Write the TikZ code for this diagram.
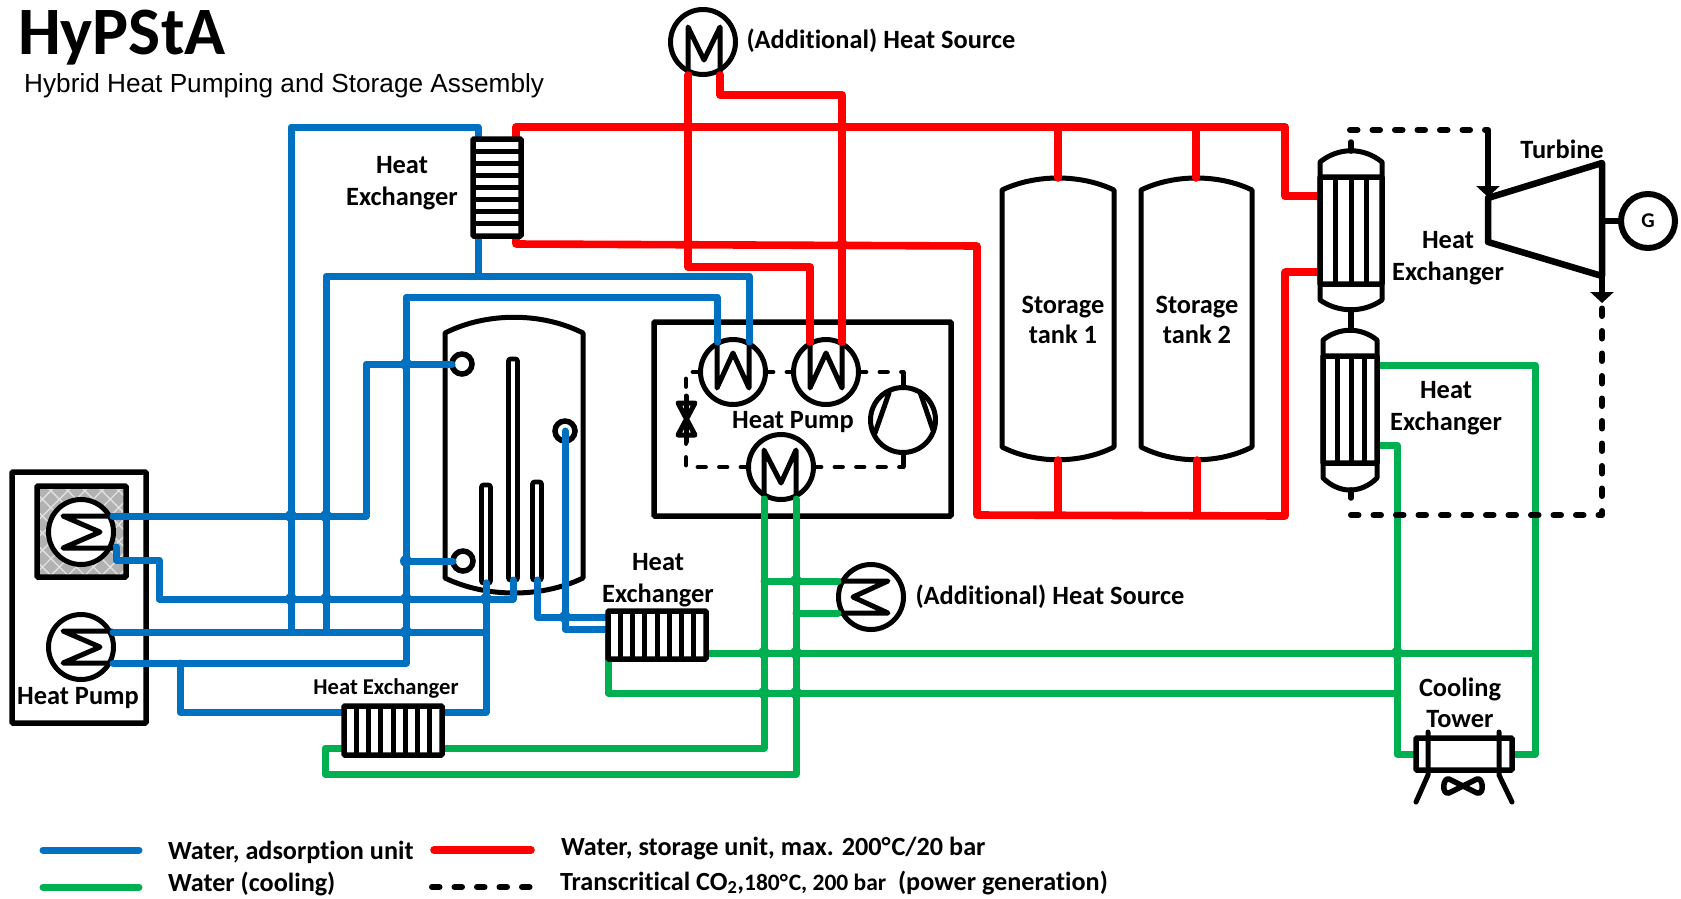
\documentclass[tikz,border=0pt]{standalone}
\usepackage{fontspec}
\setmainfont[Ligatures=NoCommon]{Carlito}
\newfontfamily\subtitlefont{Liberation Sans}
\usetikzlibrary{positioning,shapes,arrows.meta,patterns.meta}
\definecolor{waterBlue}{HTML}{0070C0}
\definecolor{waterRed}{HTML}{FF0000}
\definecolor{waterGreen}{HTML}{00B050}
\pgfdeclarelayer{front}
\pgfsetlayers{main,front}
\tikzset{
    pipe/.style={line width=7pt, line cap=round, line join=round},
    bluePipe/.style={pipe, draw=waterBlue},
    redPipe/.style={pipe, line width=7.6pt, draw=waterRed},
    greenPipe/.style={pipe, draw=waterGreen},
    co2Pipe/.style={line width=6pt, line cap=round, line join=round, dash pattern=on 7.5pt off 15pt},
    loopPipe/.style={line width=4.8pt, line cap=round, line join=round, dash pattern=on 7.5pt off 14pt},
    glyph/.style={line width=5pt, line cap=round, line join=round},
    shell/.style={line width=5pt, line join=round, fill=white},
    coil/.style={shape=circle, draw=black, line width=5pt, fill=white, minimum size=65pt, inner sep=0pt, outer sep=0pt},
    frame/.style={shape=rectangle, draw=black, line width=5.5pt, inner sep=0pt, outer sep=0pt, rounded corners=1pt},
    bank/.style={frame, fill=white},
    tube/.style={shape=rectangle, draw=black, line width=4.6pt, fill=white, minimum width=9pt, inner sep=0pt, outer sep=0pt, rounded corners=2pt},
    port/.style={shape=circle, draw=black, line width=5.5pt, minimum size=20pt, inner sep=0pt, outer sep=0pt},
    joint/.style={shape=circle, minimum size=12pt, inner sep=0pt, outer sep=0pt},
    tag/.style={inner sep=0pt, outer sep=0pt, align=center, font=\bfseries\fontsize{26.4}{32}\selectfont},
    tightTag/.style={tag, font=\bfseries\fontsize{26.4}{30.5}\selectfont},
    legendTag/.style={inner sep=0pt, outer sep=0pt, anchor=base west, font=\bfseries\fontsize{26.2}{30}\selectfont},
}
\newcommand*{\vessel}[6]{\draw[shell] (#1,#3) .. controls ({#1+0.3*(#2-#1)},#4) and ({#2-0.3*(#2-#1)},#4) .. (#2,#3) -- (#2,#5) .. controls ({#2-0.3*(#2-#1)},#6) and ({#1+0.3*(#2-#1)},#6) .. (#1,#5) -- cycle;}
\newcommand*{\zigRight}[1]{\draw[glyph, shift={(#1.center)}] (31,-16) -- (-18,-16) -- (19,0) -- (-18,16) -- (31,16);}
\newcommand*{\zigLeft}[1]{\draw[glyph, shift={(#1.center)}] (-33,-16) -- (17,-16) -- (-18,0) -- (17,16) -- (-33,16);}

\begin{document}
\begin{tikzpicture}[x=1pt, y=-1pt, >={Triangle[length=11pt,width=23pt]}]
    \useasboundingbox (0,0) rectangle (1681,898);

    \node[tag, anchor=base west, font=\bfseries\fontsize{67.8}{72}\selectfont] (mainTitle) at (18,54) {HyPStA};
    \node[inner sep=0pt, anchor=base west, font=\subtitlefont\fontsize{26.2}{30}\selectfont] (subTitle) at (24,92) {Hybrid Heat Pumping and Storage Assembly};

    % frames and vessels
    \node[frame, minimum width=134pt, minimum height=251pt] (adsBox) at (79,597.5) {};
    \node[frame, minimum width=89pt, minimum height=91pt, pattern={Hatch[angle=45,distance=12pt,line width=1.4pt]}, pattern color=white!88!black, preaction={fill=black!30}] (adsCore) at (81.5,531.5) {};
    \node[frame, minimum width=297pt, minimum height=194pt] (pumpBox) at (802.5,419) {};
    \vessel{445}{583}{333}{312}{578}{598}
    \vessel{1002}{1114}{190}{174}{447}{464}
    \vessel{1141}{1252}{190}{174}{447}{464}
    \node[tube, minimum height=98pt] (tubeA) at (486,534) {};
    \node[tube, minimum height=221pt] (tubeB) at (513,469.5) {};
    \node[tube, minimum height=98pt] (tubeC) at (537,531) {};
    \node[port] (tankTop) at (462,364) {};
    \node[port] (tankLow) at (463,561) {};
    \node[port] (tankMid) at (565,431) {};

    % coils
    \node[coil] (adsCoil) at (81,532) {};
    \zigRight{adsCoil}
    \node[coil] (chillCoil) at (81,647) {};
    \zigRight{chillCoil}
    \node[coil] (srcTop) at (703,42) {};
    \draw[glyph, shift={(srcTop.center)}] (-15,33) -- (-15,-15) -- (1,18) -- (17,-15) -- (17,33);
    \node[coil] (srcLow) at (871,597) {};
    \zigLeft{srcLow}
    \node[coil] (condA) at (733,372) {};
    \draw[glyph, shift={(condA.center)}] (-16,-29) -- (-16,16) -- (0,-19) -- (16,16) -- (16,-29);
    \node[coil] (condB) at (826,372) {};
    \draw[glyph, shift={(condB.center)}] (-16,-29) -- (-16,16) -- (0,-19) -- (16,16) -- (16,-29);
    \node[coil] (evap) at (781,467) {};
    \draw[glyph, shift={(evap.center)}] (-17,32) -- (-17,-17) -- (0,16) -- (15,-17) -- (15,32);
    \node[coil] (comp) at (903,420) {};
    \draw[glyph] (889,393) -- (875,433);
    \draw[glyph] (920,392) -- (933,430);

    % heat exchangers sit above the pipes
    \begin{pgfonlayer}{front}
        \node[bank, minimum width=48pt, minimum height=97pt] (hxTop) at (497,187.5) {};
        \foreach \k in {1,...,7} \draw[glyph, line cap=butt] (473,{139+12.12*\k}) -- (521,{139+12.12*\k});
        \node[bank, minimum width=98pt, minimum height=48pt] (hxTank) at (657,635) {};
        \foreach \k in {1,...,7} \draw[glyph, line cap=butt] ({608+12.25*\k},611) -- ({608+12.25*\k},659);
        \node[bank, minimum width=98pt, minimum height=49pt] (hxLow) at (393,730.5) {};
        \foreach \k in {1,...,7} \draw[glyph, line cap=butt] ({344+12.25*\k},706) -- ({344+12.25*\k},755);

        \vessel{1320}{1382}{162}{147}{300}{313}
        \node[bank, minimum width=62pt, minimum height=107pt] (shellA) at (1351,230.5) {};
        \foreach \k in {1335,1351,1366} \draw[glyph, line cap=butt] (\k,177) -- (\k,284);
        \vessel{1323}{1377}{340}{327}{478}{494}
        \node[bank, minimum width=54pt, minimum height=107pt] (shellB) at (1350,409.5) {};
        \foreach \k in {1337,1351,1364} \draw[glyph, line cap=butt] (\k,356) -- (\k,463);
        \draw[glyph, line width=5.5pt] (1351,142) -- (1351,151);
        \draw[glyph, line width=6pt] (1351,310) -- (1351,330);
        \draw[glyph, line width=5.5pt] (1351,490) -- (1351,498);

        \node[bank, minimum width=96pt, minimum height=32pt] (tower) at (1464,754) {};
        \draw[glyph] (1428,732) -- (1428,775) -- (1416,802);
        \draw[glyph] (1499,732) -- (1499,775) -- (1512,802);
        \draw[glyph, line width=5.5pt] (1463,786) -- (1449,779) .. controls (1443,777) and (1441,795) .. (1449,793) -- (1463,786) -- (1477,779) .. controls (1483,777) and (1485,795) .. (1477,793) -- cycle;
    \end{pgfonlayer}

    % blue circuit
    \coordinate (bendA) at (366,364);
    \coordinate (bendB) at (159,599);
    \coordinate (bendC) at (406,297);
    \coordinate (bendD) at (486,712);
    \coordinate (bendE) at (478,127);
    \coordinate (bendF) at (326,276);
    \coordinate (footA) at (291,632);
    \coordinate (footB) at (326,632);
    \coordinate (wA) at (717,342);
    \coordinate (wB) at (749,342);
    \coordinate (wC) at (810,342);
    \coordinate (wD) at (842,342);
    \draw[bluePipe] (113,516) -| (bendA) -- (tankTop);
    \draw[bluePipe] (116,547) -- (116,560) -| (bendB) -| (tubeB.south);
    \draw[bluePipe] (113,632) -| (bendD |- tubeA.south);
    \draw[bluePipe] (180,663) |- (bendD) -- (bendD |- tubeA.south);
    \draw[bluePipe] (113,663) -| (bendC) -| (wA);
    \draw[bluePipe] (footA) |- (bendE) -- (bendE |- hxTop.center);
    \draw[bluePipe] (footB) |- (bendF) -| (wB);
    \draw[bluePipe] (hxTop.center -| bendE) -- (bendE |- bendF);
    \draw[bluePipe] (406,561) -- (tankLow);
    \draw[bluePipe] (tubeC.south) |- (hxTank.center |- 0,617);
    \draw[bluePipe] (tankMid.center) |- (hxTank.center |- 0,629);
    \node[joint, fill=waterBlue] (jBa) at (291,516) {};
    \node[joint, fill=waterBlue] (jBb) at (326,516) {};
    \node[joint, fill=waterBlue] (jBc) at (291,599) {};
    \node[joint, fill=waterBlue] (jBd) at (326,599) {};
    \node[joint, fill=waterBlue] (jBe) at (406,599) {};
    \node[joint, fill=waterBlue] (jBf) at (406,632) {};
    \node[joint, fill=waterBlue] (jBg) at (406,364) {};
    \node[joint, fill=waterBlue] (jBh) at (406,561) {};
    \node[joint, fill=waterBlue] (jBi) at (486,599) {};
    \node[joint, fill=waterBlue] (jBk) at (565,617) {};

    % red circuit
    \coordinate (corTop) at (1285,127);
    \coordinate (corRet) at (1285,516);
    \coordinate (corFar) at (977,246);
    \coordinate (corLow) at (977,515);
    \coordinate (srcA) at (688,75);
    \coordinate (srcB) at (720,75);
    \draw[redPipe] (hxTop.center -| 516,0) -- (516,127) -- (corTop) |- (shellA.center |- 0,196);
    \draw[redPipe] (hxTop.center -| 516,0) -- (516,244) -- (corFar) -- (corLow) -- (corRet) |- (shellA.center |- 0,272);
    \draw[redPipe] (srcA) |- (wC |- 0,267) -- (wC);
    \draw[redPipe] (srcB) |- (wD |- 0,95) -- (wD);
    \draw[redPipe] (1058,127) -- (1058,178);
    \draw[redPipe] (1196,127) -- (1196,178);
    \draw[redPipe] (1058,460) -- (1058,515);
    \draw[redPipe] (1197,460) -- (1197,515);
    \node[joint, fill=waterRed] (jRa) at (688,127) {};
    \node[joint, fill=waterRed] (jRb) at (842,245) {};

    % green circuit
    \coordinate (evA) at (764,499);
    \coordinate (evB) at (796,499);
    \coordinate (towA) at (1397,754);
    \coordinate (towB) at (1535,754);
    \draw[greenPipe] (evA) |- (hxLow.center |- 0,748);
    \draw[greenPipe] (hxLow.center |- 0,748) -| (325,774) -| (evB);
    \draw[greenPipe] (764,581) -- (838,581);
    \draw[greenPipe] (796,613) -- (838,613);
    \draw[greenPipe] (hxTank.center |- 0,653) -| (towB);
    \draw[greenPipe] (hxTank.center -| 608,0) |- (1397,693);
    \draw[greenPipe] (shellB.center |- 0,365) -| (towB) -- (tower);
    \draw[greenPipe] (shellB.center |- 0,445) -| (towA) -- (tower);
    \node[joint, fill=waterGreen] (jGa) at (796,581) {};
    \node[joint, fill=waterGreen] (jGb) at (764,653) {};
    \node[joint, fill=waterGreen] (jGc) at (796,653) {};
    \node[joint, fill=waterGreen] (jGd) at (764,693) {};
    \node[joint, fill=waterGreen] (jGe) at (796,693) {};
    \node[joint, fill=waterGreen] (jGf) at (1397,653) {};

    % heat pump loop
    \coordinate (valveTop) at (686,396);
    \coordinate (valveLow) at (686,442);
    \draw[loopPipe] (condA.west) -| (valveTop);
    \draw[loopPipe] (evap.west) -| (valveLow);
    \draw[loopPipe] (condA.east) -- (condB.west);
    \draw[loopPipe] (condB.east) -- (comp.north |- condB.east);
    \draw[loopPipe] (evap.east) -- (comp.south |- evap.east);
    \draw[glyph] (comp.north) -- ++(0,-15);
    \draw[glyph] (comp.south) -- ++(0,14);
    \draw[glyph] (valveTop) -- (valveLow);
    \draw[glyph] (678,403) -- (695,403) -- (678,435) -- (695,435) -- cycle;

    % turbine and generator
    \coordinate (turbIn) at (1488,198);
    \coordinate (turbOut) at (1602,276);
    \node[shape=circle, draw=black, line width=6pt, fill=white, minimum size=54pt, inner sep=0pt, outer sep=0pt, font=\bfseries\fontsize{21}{25}\selectfont] (gen) at (1648,221) {G};
    \draw[line width=6.5pt, line join=round] (turbIn) -- (1602,163) -- (turbOut) -- (1488,242) -- cycle;
    \draw[line width=6pt] (1602,221) -- (gen);
    \draw[->, line width=6pt] (1488,130) -- (1488,197);
    \draw[->, line width=6pt] (turbOut) -- (1602,303);
    \draw[co2Pipe] (1350,130) -- (1488,130);
    \draw[co2Pipe] (1351,515) -- (1602,515) -- (1602,307);

    % labels
    \node[tag] (lblHxTop) at (402,183.5) {Heat\\Exchanger};
    \node[tag, right=11pt of srcTop, yshift=1pt] (lblSrcTop) {(Additional) Heat Source};
    \node[tag, right=12pt of srcLow] (lblSrcLow) {(Additional) Heat Source};
    \node[tag] (lblAds) at (78,698) {Heat Pump};
    \node[tag] (lblPump) at (793,422) {Heat Pump};
    \node[tightTag] (lblTankA) at (1063,320) {Storage\\tank 1};
    \node[tightTag] (lblTankB) at (1197,320) {Storage\\tank 2};
    \node[tag] (lblHxTank) at (658,580) {Heat\\Exchanger};
    \node[tag, font=\bfseries\fontsize{22.6}{27}\selectfont] (lblHxLow) at (386,688) {Heat Exchanger};
    \node[tag] (lblTurbine) at (1562,149) {Turbine};
    \node[tag] (lblShellA) at (1448,258) {Heat\\Exchanger};
    \node[tag] (lblShellB) at (1446,408) {Heat\\Exchanger};
    \node[tightTag] (lblTower) at (1460,703) {Cooling\\Tower};

    % legend
    \coordinate (keyA) at (43,850);
    \coordinate (keyB) at (139,850);
    \coordinate (keyC) at (43,887);
    \coordinate (keyD) at (139,887);
    \coordinate (keyE) at (434,850);
    \coordinate (keyF) at (531,850);
    \coordinate (keyG) at (432,887);
    \coordinate (keyH) at (531,887);
    \draw[bluePipe] (keyA) -- (keyB);
    \draw[greenPipe] (keyC) -- (keyD);
    \draw[redPipe] (keyE) -- (keyF);
    \draw[co2Pipe] (keyG) -- (keyH);
    \node[legendTag] (keyTextA) at (168,859) {Water, adsorption unit};
    \node[legendTag] (keyTextC) at (168,891) {Water (cooling)};
    \node[legendTag] (keyTextE) at (561,855) {Water, storage unit, max. 200°\kern1pt C/20 bar};
    \node[legendTag] (keyTextG) at (560,890) {Transcritical CO\textsubscript{2},{\fontsize{23.5}{28}\selectfont 180°\kern1pt C, 200 bar}\ \ (power generation)};
\end{tikzpicture}
\end{document}
